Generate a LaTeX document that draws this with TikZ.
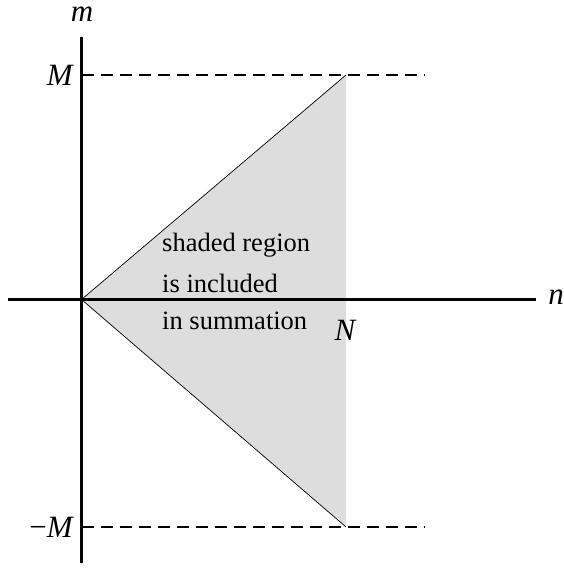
\documentclass[tikz,border=0pt]{standalone}
\usepackage{fontspec}
\setmainfont{Liberation Serif}
\usepackage{xcolor}
\usepackage{tikz}
\usetikzlibrary{calc}
\definecolor{figline}{RGB}{0,0,0}
\definecolor{figfill}{RGB}{221,221,221}
\tikzset{
  axis/.style  ={draw=figline, line width=2.6pt},
  edge/.style  ={draw=figline, line width=0.7pt},
  guide/.style ={draw=figline, line width=1.2pt, dash pattern=on 12pt off 7pt},
  lab/.style   ={font=\fontsize{31}{36}\selectfont\itshape, inner sep=1pt},
  txt/.style   ={font=\fontsize{26.5}{32}\selectfont, inner sep=0pt, anchor=west},
}

\begin{document}
\begin{tikzpicture}[x=1pt,y=-1pt]
  \useasboundingbox (0,0) rectangle (563,570);
  \coordinate (O) at (81.5,299.5);
  \coordinate (top) at (346,75);
  \coordinate (bot) at (346,527);
  \coordinate (topend) at (425,75);
  \coordinate (botend) at (425,527);
  \coordinate (ytop) at (81.5,37);
  \coordinate (ybot) at (81.5,563);
  \coordinate (xleft) at (8,299.5);
  \coordinate (xright) at (536,299.5);
  \fill[figfill] (O) -- (top) -- (bot) -- cycle;
  \draw[edge] (O) -- (top);
  \draw[edge] (O) -- (bot);
  \draw[guide] (O |- top) -- (topend);
  \draw[guide] (O |- bot) -- (botend);
  \draw[axis] (ytop) -- (ybot);
  \draw[axis] (xleft) -- (xright);
  \node[lab,text height=1.5ex,text depth=0pt,anchor=base] (mlab) at (82,21) {m};
  \node[lab] (nlab) at (556,297) {n};
  \node[lab,anchor=east] (Mlab) at (74,75) {M};
  \node[lab,anchor=east] (mMlab) at (74,527) {{\upshape −}M};
  \node[lab] (Nlab) at (345,330) {N};
  \node[txt] (line1) at (162,245) {shaded region};
  \node[txt] (line2) at (162,283) {is included};
  \node[txt] (line3) at (162,321) {in summation};
\end{tikzpicture}
\end{document}
